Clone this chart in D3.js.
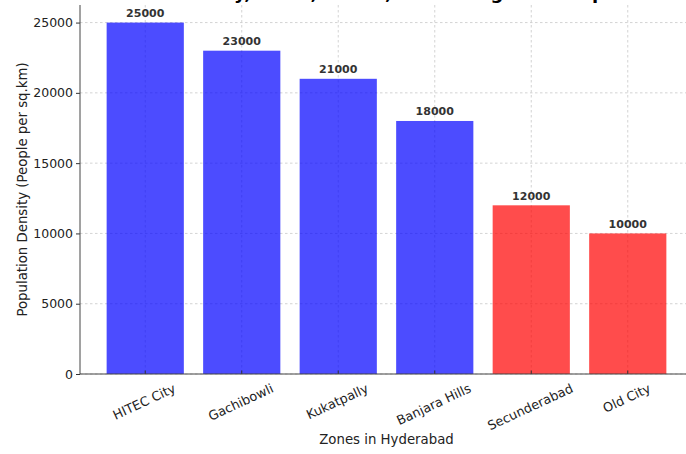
<!DOCTYPE html>
<html>
<head>
<meta charset="utf-8">
<script src="https://cdn.jsdelivr.net/npm/d3@7"></script>
<style>
  body { margin: 0; background: #fff; }
  svg { display: block; font-family: "DejaVu Sans", sans-serif; }
  .grid line { stroke: #c8c8c8; stroke-width: 0.8; stroke-dasharray: 2.5,2.5; }
</style>
</head>
<body>
<div id="chart"></div>
<script>
// Data
const zones = ["HITEC City", "Gachibowli", "Kukatpally", "Banjara Hills", "Secunderabad", "Old City"];
const density = [25000, 23000, 21000, 18000, 12000, 10000];
const barColors = ["blue", "blue", "blue", "blue", "red", "red"];
const yTicks = [0, 5000, 10000, 15000, 20000, 25000];

const W = 686, H = 454;
// axes box (right edge runs a little past the window, as in the reference crop)
const axL = 80, axR = 693, axT = 5, axB = 374;

const svg = d3.select("#chart").append("svg")
    .attr("width", W)
    .attr("height", H);

const x = d3.scaleBand()
    .domain(zones)
    .range([axL, axR])
    .paddingInner(0.2)
    .paddingOuter(0.276);

const y = d3.scaleLinear()
    .domain([0, 26250])
    .range([axB, axT]);

// grid lines (behind the semi-transparent bars)
const grid = svg.append("g").attr("class", "grid");
grid.selectAll(".hg")
    .data(yTicks)
    .enter().append("line")
    .attr("x1", axL).attr("x2", axR)
    .attr("y1", d => y(d)).attr("y2", d => y(d));
grid.selectAll(".vg")
    .data(zones)
    .enter().append("line")
    .attr("x1", d => x(d) + x.bandwidth() / 2)
    .attr("x2", d => x(d) + x.bandwidth() / 2)
    .attr("y1", axT).attr("y2", axB);

// bars
svg.selectAll(".bar")
    .data(zones)
    .enter().append("rect")
    .attr("class", "bar")
    .attr("x", d => x(d))
    .attr("width", x.bandwidth())
    .attr("y", (d, i) => y(density[i]))
    .attr("height", (d, i) => y(0) - y(density[i]))
    .attr("fill", (d, i) => barColors[i])
    .attr("fill-opacity", 0.7);

// value labels
svg.selectAll(".val")
    .data(zones)
    .enter().append("text")
    .attr("x", d => x(d) + x.bandwidth() / 2)
    .attr("y", (d, i) => y(density[i]) - 5.5)
    .attr("text-anchor", "middle")
    .attr("font-size", 11)
    .attr("font-weight", "bold")
    .attr("fill", "#333")
    .text((d, i) => density[i]);

// y axis
const yAxis = svg.append("g")
    .attr("transform", `translate(${axL},0)`)
    .call(d3.axisLeft(y).tickValues(yTicks).tickSize(4).tickPadding(3).tickFormat(d3.format("d")));
yAxis.select(".domain").remove();
yAxis.selectAll("text").attr("font-size", 12.5).attr("fill", "#222").attr("font-family", "DejaVu Sans");
yAxis.selectAll("line").attr("stroke", "#333");

// x ticks point inward
svg.selectAll(".xtick")
    .data(zones)
    .enter().append("line")
    .attr("x1", d => x(d) + x.bandwidth() / 2)
    .attr("x2", d => x(d) + x.bandwidth() / 2)
    .attr("y1", axB).attr("y2", axB - 3.5)
    .attr("stroke", "#333");

// spines
svg.append("line")
    .attr("x1", axL).attr("x2", axL)
    .attr("y1", axT).attr("y2", axB)
    .attr("stroke", "#444").attr("stroke-width", 1);
svg.append("line")
    .attr("x1", axL).attr("x2", axR)
    .attr("y1", axB).attr("y2", axB)
    .attr("stroke", "#444").attr("stroke-width", 1);

// rotated x tick labels, bbox centred under the tick, top of bbox below axis
const ang = 25 * Math.PI / 180;
const fs = 12.8;
svg.selectAll(".xlab")
    .data(zones)
    .enter().append("text")
    .attr("font-size", fs)
    .attr("fill", "#222")
    .attr("text-anchor", "middle")
    .attr("dominant-baseline", "central")
    .text(d => d)
    .each(function(d) {
        const L = this.getComputedTextLength();
        const h = fs * 1.1;
        const cx = x(d) + x.bandwidth() / 2 - 1;
        const cy = axB + 7 + (L * Math.sin(ang) + h * Math.cos(ang)) / 2;
        d3.select(this)
            .attr("x", cx).attr("y", cy)
            .attr("transform", `rotate(-25,${cx},${cy})`);
    });

// axis titles
svg.append("text")
    .attr("x", (axL + axR) / 2)
    .attr("y", 444)
    .attr("text-anchor", "middle")
    .attr("font-size", 13.3)
    .attr("fill", "#222")
    .text("Zones in Hyderabad");

svg.append("text")
    .attr("transform", `translate(27,${(axT + axB) / 2}) rotate(-90)`)
    .attr("text-anchor", "middle")
    .attr("font-size", 13.3)
    .attr("fill", "#222")
    .text("Population Density (People per sq.km)");

// chart title, mostly cut off above the window in the reference;
// shift it so the "y" of "City" sits where the reference shows it
const titleText = "Dense Zones in Tech City, Malls, Urban, and Living vs Old Spots";
const title = svg.append("text")
    .attr("x", 0)
    .attr("y", -1)
    .attr("font-size", 18)
    .attr("font-weight", "bold")
    .attr("fill", "#000")
    .text(titleText);
const yIdx = titleText.indexOf("City,") + 3;
const offs = title.node().getSubStringLength(0, yIdx);
title.attr("x", 234 - offs);
</script>
</body>
</html>
